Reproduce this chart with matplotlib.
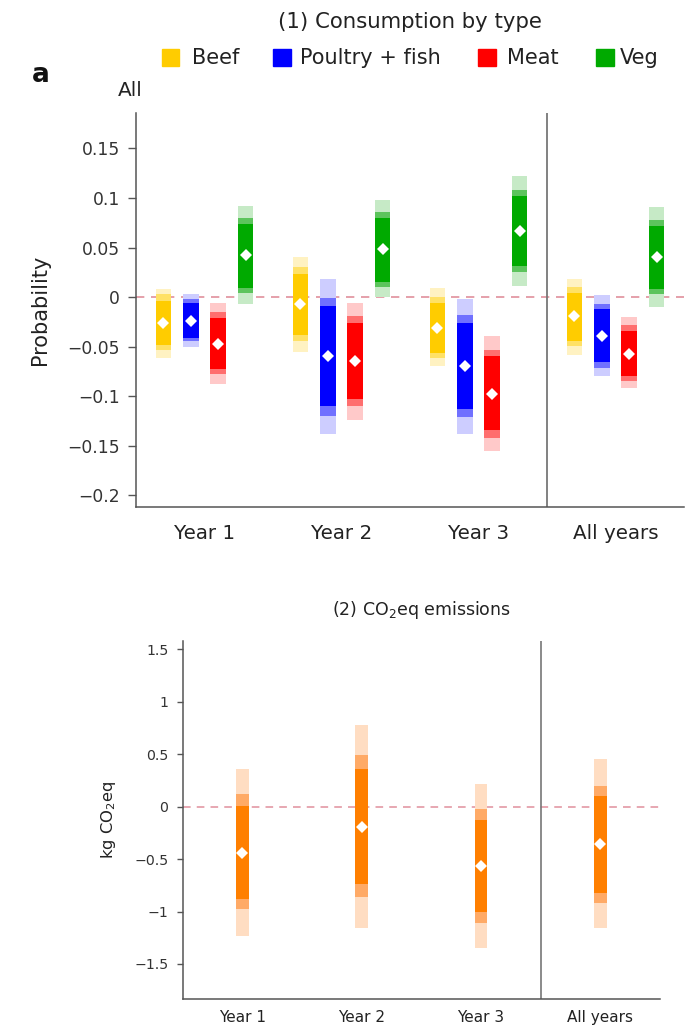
import matplotlib
matplotlib.use("Agg")
import matplotlib.pyplot as plt
from matplotlib.patches import Rectangle
from matplotlib.ticker import FuncFormatter
import numpy as np

plt.rcParams['font.family'] = ['DejaVu Sans']

# ---------------- data ----------------
periods = ["Year 1", "Year 2", "Year 3", "All years"]
foods = ["Beef", "Poultry + fish", "Meat", "Veg"]

beef_mean = [-0.026, -0.007, -0.031, -0.019]
beef_in_lo = [-0.048, -0.038, -0.056, -0.044]
beef_in_hi = [-0.004, 0.023, -0.006, 0.004]
beef_mid_lo = [-0.053, -0.044, -0.061, -0.049]
beef_mid_hi = [0.003, 0.030, 0.000, 0.010]
beef_out_lo = [-0.061, -0.055, -0.070, -0.058]
beef_out_hi = [0.008, 0.040, 0.009, 0.018]

poultry_mean = [-0.024, -0.059, -0.070, -0.039]
poultry_in_lo = [-0.041, -0.110, -0.113, -0.066]
poultry_in_hi = [-0.006, -0.009, -0.026, -0.012]
poultry_mid_lo = [-0.044, -0.120, -0.121, -0.072]
poultry_mid_hi = [-0.002, -0.001, -0.018, -0.007]
poultry_out_lo = [-0.050, -0.138, -0.138, -0.080]
poultry_out_hi = [0.003, 0.018, -0.002, 0.002]

meat_mean = [-0.047, -0.064, -0.098, -0.057]
meat_in_lo = [-0.073, -0.103, -0.134, -0.080]
meat_in_hi = [-0.021, -0.026, -0.059, -0.034]
meat_mid_lo = [-0.078, -0.110, -0.142, -0.085]
meat_mid_hi = [-0.015, -0.019, -0.053, -0.028]
meat_out_lo = [-0.088, -0.124, -0.155, -0.092]
meat_out_hi = [-0.006, -0.006, -0.039, -0.020]

veg_mean = [0.042, 0.048, 0.067, 0.040]
veg_in_lo = [0.009, 0.015, 0.031, 0.008]
veg_in_hi = [0.074, 0.080, 0.102, 0.072]
veg_mid_lo = [0.004, 0.010, 0.025, 0.003]
veg_mid_hi = [0.080, 0.086, 0.108, 0.078]
veg_out_lo = [-0.007, 0.000, 0.011, -0.010]
veg_out_hi = [0.092, 0.098, 0.122, 0.091]

co2_mean = [-0.44, -0.19, -0.57, -0.36]
co2_in_lo = [-0.885, -0.742, -1.005, -0.82]
co2_in_hi = [0.01, 0.36, -0.124, 0.10]
co2_mid_lo = [-0.98, -0.86, -1.107, -0.92]
co2_mid_hi = [0.12, 0.495, -0.02, 0.20]
co2_out_lo = [-1.23, -1.155, -1.348, -1.16]
co2_out_hi = [0.36, 0.78, 0.216, 0.452]

top_yticks = [0.15, 0.1, 0.05, 0, -0.05, -0.1, -0.15, -0.2]
bot_yticks = [1.5, 1, 0.5, 0, -0.5, -1, -1.5]

# ---------------- styling ----------------
food_colors = {
    "Beef": ("#FFCC00", "#FFE166", "#FFF2C2"),
    "Poultry + fish": ("#0000FF", "#7070FF", "#CDCDFF"),
    "Meat": ("#FF0000", "#FF6E6E", "#FFC9C9"),
    "Veg": ("#00AA00", "#5CC45C", "#C6EAC6"),
}
co2_colors = ("#FF7F00", "#FFAA66", "#FFDDC2")
spine_c = "#555555"
dash_c = "#E0909C"

series = {
    "Beef": (beef_mean, beef_in_lo, beef_in_hi, beef_mid_lo, beef_mid_hi, beef_out_lo, beef_out_hi),
    "Poultry + fish": (poultry_mean, poultry_in_lo, poultry_in_hi, poultry_mid_lo, poultry_mid_hi, poultry_out_lo, poultry_out_hi),
    "Meat": (meat_mean, meat_in_lo, meat_in_hi, meat_mid_lo, meat_mid_hi, meat_out_lo, meat_out_hi),
    "Veg": (veg_mean, veg_in_lo, veg_in_hi, veg_mid_lo, veg_mid_hi, veg_out_lo, veg_out_hi),
}

def fmt(v, pos):
    s = "%g" % v
    return s.replace("-", "\u2212")

W, H = 691, 1027
fig = plt.figure(figsize=(W / 100, H / 100), dpi=100)

def px_axes(l, r, t, b):
    return fig.add_axes([l / W, 1 - b / H, (r - l) / W, (b - t) / H])

def style_axes(ax, tick_fs, tick_len, tick_pad, xfs, xpad):
    for s in ["top", "right"]:
        ax.spines[s].set_visible(False)
    for s in ["left", "bottom"]:
        ax.spines[s].set_color(spine_c)
        ax.spines[s].set_linewidth(1.1)
    ax.tick_params(axis="y", length=tick_len, width=1.0, color=spine_c,
                   labelsize=tick_fs, pad=tick_pad, labelcolor="#333333")
    ax.tick_params(axis="x", length=0, labelsize=xfs, pad=xpad, labelcolor="#222222")
    ax.yaxis.set_major_formatter(FuncFormatter(fmt))

# ---------------- top panel ----------------
ax1 = px_axes(136, 684, 112.7, 507)
x = np.arange(len(periods))
offsets = [-0.3, -0.1, 0.1, 0.3]
bw = 0.115
for f, off in zip(foods, offsets):
    m, ilo, ihi, mlo, mhi, olo, ohi = [np.array(a) for a in series[f]]
    dark, mid, light = food_colors[f]
    ax1.bar(x + off, ohi - olo, bottom=olo, width=bw, color=light, zorder=2)
    ax1.bar(x + off, mhi - mlo, bottom=mlo, width=bw, color=mid, zorder=3)
    ax1.bar(x + off, ihi - ilo, bottom=ilo, width=bw, color=dark, zorder=4)
    ax1.plot(x + off, m, linestyle="none", marker="D", markersize=6.3,
             color="white", markeredgewidth=0, zorder=5)
ax1.axhline(0, color=dash_c, lw=1.2, ls=(0, (5, 4)), zorder=1)
ax1.axvline(2.5, color="#777777", lw=1.3, zorder=1)
ax1.set_xlim(-0.5, 3.5)
ax1.set_ylim(-0.2118, 0.186)
ax1.set_yticks(top_yticks)
ax1.set_xticks(x)
ax1.set_xticklabels(periods)
style_axes(ax1, 12.3, 5.5, 6, 14.3, 12)
ax1.set_ylabel("Probability", fontsize=15, color="#222222")
ax1.yaxis.set_label_coords(-0.157, 0.5)

# ---------------- bottom panel ----------------
ax2 = px_axes(182.7, 660, 640.7, 999.3)
m, ilo, ihi, mlo, mhi, olo, ohi = [np.array(a) for a in
    (co2_mean, co2_in_lo, co2_in_hi, co2_mid_lo, co2_mid_hi, co2_out_lo, co2_out_hi)]
bw2 = 0.105
ax2.bar(x, ohi - olo, bottom=olo, width=bw2, color=co2_colors[2], zorder=2)
ax2.bar(x, mhi - mlo, bottom=mlo, width=bw2, color=co2_colors[1], zorder=3)
ax2.bar(x, ihi - ilo, bottom=ilo, width=bw2, color=co2_colors[0], zorder=4)
ax2.plot(x, m, linestyle="none", marker="D", markersize=6.3, color="white",
         markeredgewidth=0, zorder=5)
ax2.axhline(0, color=dash_c, lw=1.1, ls=(0, (5, 4)), zorder=1)
ax2.axvline(2.5, color="#777777", lw=1.2, zorder=1)
ax2.set_xlim(-0.5, 3.5)
ax2.set_ylim(-1.837, 1.582)
ax2.set_yticks(bot_yticks)
ax2.set_xticks(x)
ax2.set_xticklabels(periods)
style_axes(ax2, 10.2, 4.3, 6, 11, 8)
ax2.set_ylabel("kg CO$_2$eq", fontsize=11.8, color="#222222")
ax2.yaxis.set_label_coords(-0.1355, 0.5)

# ---------------- titles, legend, labels ----------------
fig.text(410 / W, 1 - 22 / H, "(1) Consumption by type", ha="center", va="center",
         fontsize=15.3, color="#222222")
fig.text(421 / W, 1 - 610 / H, "(2) CO$_2$eq emissions", ha="center", va="center",
         fontsize=12.5, color="#222222")
fig.text(32 / W, 1 - 75 / H, "a", ha="left", va="center", fontsize=19,
         fontweight="bold", color="#111111")
fig.text(118 / W, 1 - 90 / H, "All", ha="left", va="center", fontsize=14.5,
         color="#222222")

leg_sq = [162, 273, 478, 596]
leg_tx = [192, 300, 507, 620]
for f, sx, tx in zip(foods, leg_sq, leg_tx):
    fig.patches.append(Rectangle((sx / W, 1 - 66 / H), 17.5 / W, 17 / H,
                                 transform=fig.transFigure, color=food_colors[f][0]))
    fig.text(tx / W, 1 - 57.5 / H, f, ha="left", va="center", fontsize=15,
             color="#222222")

fig.savefig("out.png", dpi=100)
